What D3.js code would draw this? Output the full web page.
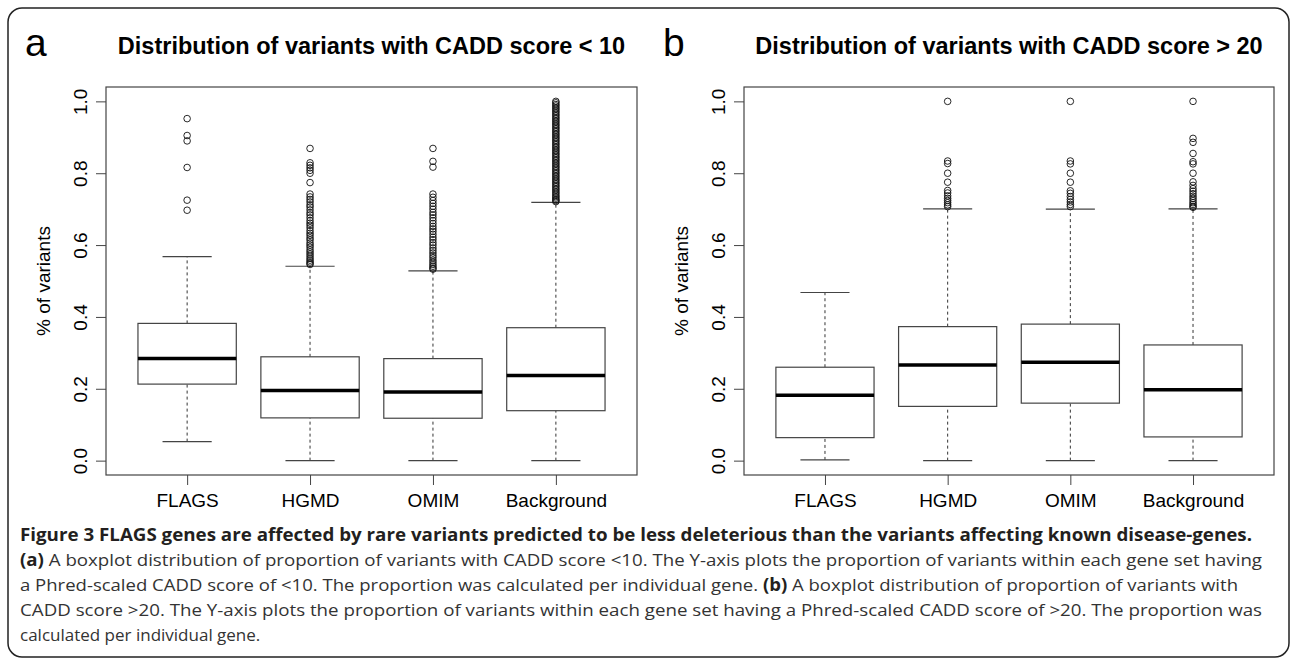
<!DOCTYPE html>
<html lang="en">
<head>
<meta charset="UTF-8" />
<title>Figure 3 - CADD score boxplots</title>
<script src="https://d3js.org/d3.v7.min.js"></script>
<style>
  body { margin: 0; background: #fff; }
  svg { display: block; }
  .plot text { font-family: "Liberation Sans", Arial, sans-serif; fill: #000; }
  .caption { font-family: "Open Sans", "Noto Sans", sans-serif; font-size: 17px; fill: #333; }
  .caption .b { font-weight: bold; fill: #231f20; }
</style>
</head>
<body>
<svg id="svg" width="1292" height="662"></svg>
<script>
// ---- data ----
const categories = ["FLAGS", "HGMD", "OMIM", "Background"];
const yTicks = [0, 0.2, 0.4, 0.6, 0.8, 1.0];

// [lower whisker, Q1, median, Q3, upper whisker]
const boxStatsA = [
  [0.053, 0.213, 0.284, 0.382, 0.568],
  [0.000, 0.119, 0.195, 0.289, 0.541],
  [0.000, 0.118, 0.191, 0.284, 0.528],
  [0.000, 0.139, 0.237, 0.370, 0.719]
];
const outliersA = [
  [0.952, 0.905, 0.890, 0.816, 0.725, 0.697],
  [0.869, 0.829, 0.822, 0.815, 0.808, 0.800, 0.774, 0.742, 0.734, 0.727, 0.720, 0.712,
   0.706, 0.698, 0.690, 0.684, 0.676, 0.668, 0.661, 0.655, 0.648, 0.640, 0.633, 0.627,
   0.620, 0.614, 0.606, 0.600, 0.594, 0.587, 0.581, 0.575, 0.569, 0.563, 0.558, 0.553,
   0.549, 0.546],
  [0.869, 0.833, 0.817, 0.742, 0.733, 0.724, 0.716, 0.708, 0.700, 0.691, 0.684, 0.676,
   0.668, 0.660, 0.652, 0.645, 0.638, 0.630, 0.622, 0.615, 0.607, 0.600, 0.592, 0.585,
   0.578, 0.571, 0.565, 0.558, 0.552, 0.546, 0.541, 0.536, 0.533],
  [1.000, 0.996, 0.991, 0.987, 0.982, 0.978, 0.973, 0.969, 0.964, 0.960, 0.955, 0.951,
   0.946, 0.942, 0.937, 0.933, 0.928, 0.924, 0.919, 0.915, 0.910, 0.906, 0.901, 0.897,
   0.892, 0.888, 0.883, 0.879, 0.874, 0.870, 0.865, 0.861, 0.856, 0.852, 0.847, 0.843,
   0.838, 0.834, 0.829, 0.825, 0.820, 0.816, 0.811, 0.807, 0.802, 0.798, 0.793, 0.789,
   0.784, 0.780, 0.775, 0.771, 0.766, 0.762, 0.757, 0.753, 0.748, 0.744, 0.739, 0.735,
   0.731, 0.727, 0.724, 0.721]
];

const boxStatsB = [
  [0.002, 0.064, 0.182, 0.260, 0.468],
  [0.000, 0.151, 0.266, 0.373, 0.701],
  [0.000, 0.160, 0.274, 0.380, 0.700],
  [0.000, 0.066, 0.197, 0.322, 0.701]
];
const outliersB = [
  [],
  [1.000, 0.834, 0.827, 0.800, 0.775, 0.752, 0.745, 0.737, 0.730, 0.724, 0.718, 0.712, 0.707],
  [1.000, 0.834, 0.826, 0.800, 0.775, 0.751, 0.744, 0.735, 0.727, 0.720, 0.713, 0.707],
  [1.000, 0.897, 0.886, 0.855, 0.832, 0.826, 0.800, 0.776, 0.766, 0.757, 0.750, 0.743,
   0.736, 0.730, 0.724, 0.718, 0.713, 0.708, 0.705]
];

const captionBold = "Figure 3 FLAGS genes are affected by rare variants predicted to be less deleterious than the variants affecting known disease-genes.";
const captionLines = [
  [["(a)", true], [" A boxplot distribution of proportion of variants with CADD score <10. The Y-axis plots the proportion of variants within each gene set having", false]],
  [["a Phred-scaled CADD score of <10. The proportion was calculated per individual gene. ", false], ["(b)", true], [" A boxplot distribution of proportion of variants with", false]],
  [["CADD score >20. The Y-axis plots the proportion of variants within each gene set having a Phred-scaled CADD score of >20. The proportion was", false]],
  [["calculated per individual gene.", false]]
];

// ---- drawing ----
const svg = d3.select("svg");

svg.append("rect")
  .attr("x", 8).attr("y", 8)
  .attr("width", 1281).attr("height", 649)
  .attr("rx", 14)
  .attr("fill", "none")
  .attr("stroke", "#222")
  .attr("stroke-width", 1.5);

const plotTop = 87, plotBottom = 475;
const y = d3.scaleLinear().domain([-0.04, 1.04]).range([plotBottom, plotTop]);

function drawPanel(letter, title, left, right, stats, outliers) {
  const g = svg.append("g").attr("class", "plot");
  const x = d3.scaleLinear().domain([0.34, 4.66]).range([left, right]);
  const unit = x(2) - x(1);
  const boxW = unit * 0.8;
  const capW = boxW * 0.5;

  g.append("text")
    .attr("x", left - 81).attr("y", 56)
    .attr("font-size", 39)
    .text(letter);

  g.append("text")
    .attr("x", (left + right) / 2).attr("y", 54)
    .attr("text-anchor", "middle")
    .attr("font-size", 23.5)
    .attr("font-weight", "bold")
    .text(title);

  const boxes = g.selectAll(".box")
    .data(stats)
    .enter()
    .append("g")
    .classed("box", true)
    .attr("transform", (d, i) => `translate(${x(i + 1)},0)`);

  // whiskers (dashed)
  boxes.append("line")
    .attr("y1", d => y(d[3])).attr("y2", d => y(d[4]))
    .attr("stroke", "#333").attr("stroke-dasharray", "3,3");
  boxes.append("line")
    .attr("y1", d => y(d[0])).attr("y2", d => y(d[1]))
    .attr("stroke", "#333").attr("stroke-dasharray", "3,3");
  // staples
  boxes.selectAll(".cap")
    .data(d => [d[0], d[4]])
    .enter()
    .append("line")
    .attr("x1", -capW / 2).attr("x2", capW / 2)
    .attr("y1", v => y(v)).attr("y2", v => y(v))
    .attr("stroke", "#444").attr("stroke-width", 1.2);
  // box
  boxes.append("rect")
    .attr("x", -boxW / 2)
    .attr("y", d => y(d[3]))
    .attr("width", boxW)
    .attr("height", d => y(d[1]) - y(d[3]))
    .attr("fill", "#fff")
    .attr("stroke", "#444").attr("stroke-width", 1.2);
  // median
  boxes.append("line")
    .attr("x1", -boxW / 2).attr("x2", boxW / 2)
    .attr("y1", d => y(d[2])).attr("y2", d => y(d[2]))
    .attr("stroke", "#000").attr("stroke-width", 3.5);

  // outliers
  boxes.each(function (d, i) {
    d3.select(this).selectAll(".out")
      .data(outliers[i])
      .enter()
      .append("circle")
      .classed("out", true)
      .attr("cy", v => y(v))
      .attr("r", 3.3)
      .attr("fill", "none")
      .attr("stroke", "#111")
      .attr("stroke-width", 0.9);
  });

  // frame
  g.append("rect")
    .attr("x", left).attr("y", plotTop)
    .attr("width", right - left).attr("height", plotBottom - plotTop)
    .attr("fill", "none")
    .attr("stroke", "#444").attr("stroke-width", 1.2);

  // y axis
  const ya = g.append("g")
    .attr("transform", `translate(${left},0)`)
    .call(d3.axisLeft(y).tickValues(yTicks).tickSize(10).tickFormat(d3.format(".1f")));
  ya.select(".domain").remove();
  ya.selectAll("line").attr("stroke", "#444");
  ya.selectAll("text")
    .attr("font-size", 19)
    .attr("x", 0).attr("y", -19).attr("dy", 0)
    .attr("transform", "rotate(-90)")
    .attr("text-anchor", "middle");

  // x axis
  const xa = g.append("g")
    .attr("transform", `translate(0,${plotBottom})`)
    .call(d3.axisBottom(x).tickValues([1, 2, 3, 4]).tickSize(10).tickFormat(i => categories[i - 1]));
  xa.select(".domain").remove();
  xa.selectAll("line").attr("stroke", "#444");
  xa.selectAll("text")
    .attr("font-size", 19)
    .attr("y", 32).attr("dy", 0);

  g.append("text")
    .attr("transform", `translate(${left - 56},${(plotTop + plotBottom) / 2}) rotate(-90)`)
    .attr("text-anchor", "middle")
    .attr("font-size", 19)
    .text("% of variants");
}

drawPanel("a", "Distribution of variants with CADD score < 10", 106, 637, boxStatsA, outliersA);
drawPanel("b", "Distribution of variants with CADD score > 20", 744, 1274, boxStatsB, outliersB);

// caption
const cap = svg.append("g").attr("class", "caption");
const lineY = [541, 566, 591, 616, 641];
const lineEnd = [1252, 1262, 1238, 1262, null];

cap.append("text")
  .attr("class", "b")
  .attr("x", 20).attr("y", lineY[0])
  .attr("textLength", lineEnd[0] - 20)
  .attr("lengthAdjust", "spacingAndGlyphs")
  .text(captionBold);

captionLines.forEach((parts, i) => {
  const t = cap.append("text")
    .attr("x", 20).attr("y", lineY[i + 1]);
  if (lineEnd[i + 1]) {
    t.attr("textLength", lineEnd[i + 1] - 20).attr("lengthAdjust", "spacingAndGlyphs");
  }
  parts.forEach(p => {
    t.append("tspan").classed("b", p[1]).text(p[0]);
  });
});
</script>
</body>
</html>
